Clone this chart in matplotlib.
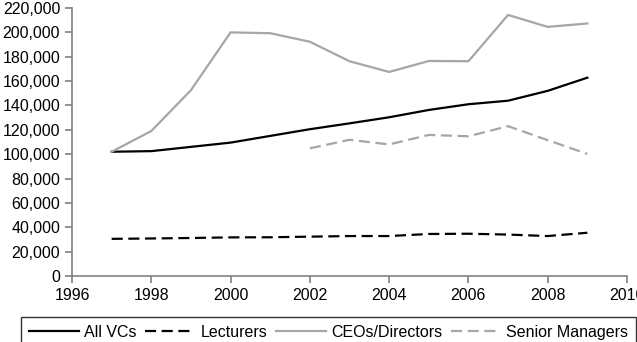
import matplotlib
matplotlib.use("Agg")
import matplotlib.pyplot as plt
from matplotlib.ticker import FuncFormatter

plt.rcParams['font.family'] = ['Liberation Sans', 'DejaVu Sans']

years = list(range(1997, 2010))
all_vcs = [102000, 102500, 106000, 109500, 115000, 120500, 125300, 130300,
           136300, 141000, 143900, 152000, 162800]
lecturers = [30500, 30800, 31200, 31700, 31800, 32300, 32800, 32800,
             34500, 34700, 34000, 32800, 35500]
ceos = [102000, 119000, 152500, 200000, 199300, 192300, 176300, 167500,
        176500, 176300, 214300, 204500, 207300]
sm_years = list(range(2002, 2010))
senior = [104800, 111800, 108000, 115800, 114700, 123000, 111500, 100200]

fig = plt.figure(figsize=(6.37, 3.42), dpi=100)
ax = fig.add_axes([72 / 637, 1 - 276 / 342, 555 / 637, 268 / 342])

dash = (0, (5, 2.5))
ax.plot(years, all_vcs, color='black', lw=1.6, label='All VCs')
ax.plot(years, lecturers, color='black', lw=1.6, ls=dash, label='Lecturers')
ax.plot(years, ceos, color='#a6a6a6', lw=1.6, label='CEOs/Directors')
ax.plot(sm_years, senior, color='#a6a6a6', lw=1.6, ls=dash, label='Senior Managers')

ax.set_xlim(1996, 2010)
ax.set_ylim(0, 220000)
ax.set_xticks(range(1996, 2011, 2))
ax.set_yticks(range(0, 220001, 20000))
ax.yaxis.set_major_formatter(FuncFormatter(lambda v, p: f'{int(v):,}'))
ax.spines['top'].set_visible(False)
ax.spines['right'].set_visible(False)
for s in ('left', 'bottom'):
    ax.spines[s].set_color('#808080')
    ax.spines[s].set_linewidth(1.2)
ax.tick_params(axis='both', labelsize=11.5, color='#808080', length=5, width=1.2,
               direction='out')
ax.tick_params(axis='x', pad=4)

leg = fig.legend(loc='upper left', bbox_to_anchor=(21 / 637, 1 - 317 / 342),
                 ncol=4, fontsize=11.5, frameon=True, fancybox=False,
                 handlelength=3.1, handletextpad=0.35, columnspacing=0.55,
                 borderpad=0.5, borderaxespad=0)
leg.get_frame().set_edgecolor('black')
leg.get_frame().set_linewidth(1.0)

fig.savefig('out.png', dpi=100)
